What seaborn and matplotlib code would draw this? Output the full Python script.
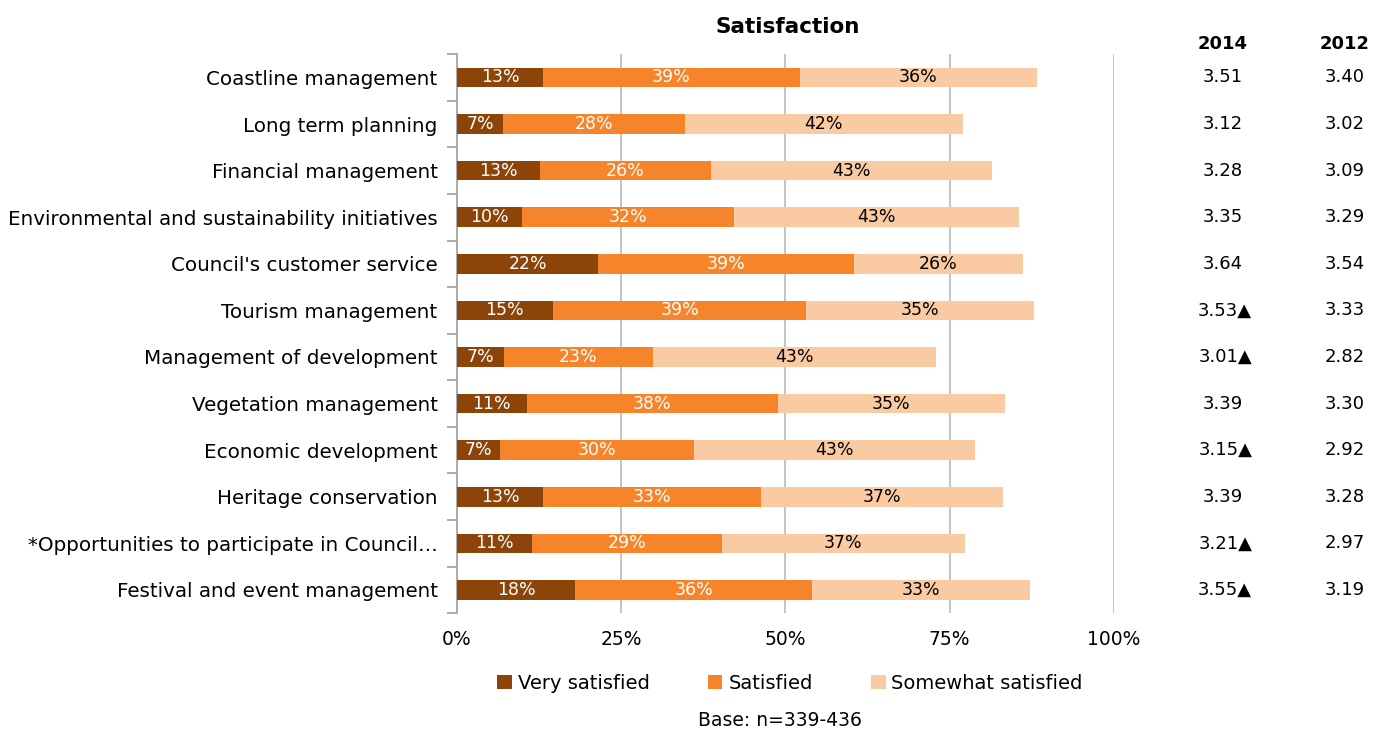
import numpy as np
import pandas as pd
import matplotlib
matplotlib.use("Agg")
import matplotlib.pyplot as plt
import matplotlib.transforms as mtransforms
from matplotlib.patches import Patch
import seaborn as sns

# Données
categories = [
    "Coastline management",
    "Long term planning",
    "Financial management",
    "Environmental and sustainability initiatives",
    "Council's customer service",
    "Tourism management",
    "Management of development",
    "Vegetation management",
    "Economic development",
    "Heritage conservation",
    "*Opportunities to participate in Council\u2026",
    "Festival and event management",
]
very_satisfied = [13.1, 7.0, 12.6, 9.9, 21.5, 14.6, 7.2, 10.6, 6.6, 13.1, 11.4, 18.0]
satisfied = [39.1, 27.7, 26.0, 32.3, 39.0, 38.6, 22.6, 38.2, 29.5, 33.2, 28.9, 36.1]
somewhat_satisfied = [36.1, 42.3, 42.8, 43.4, 25.6, 34.6, 43.1, 34.6, 42.7, 36.8, 37.0, 33.2]
score_2014 = ["3.51", "3.12", "3.28", "3.35", "3.64", "3.53\u25b2", "3.01\u25b2",
              "3.39", "3.15\u25b2", "3.39", "3.21\u25b2", "3.55\u25b2"]
score_2012 = ["3.40", "3.02", "3.09", "3.29", "3.54", "3.33", "2.82",
              "3.30", "2.92", "3.28", "2.97", "3.19"]
series_names = ["Very satisfied", "Satisfied", "Somewhat satisfied"]
x_ticks = [0, 25, 50, 75, 100]

colors = ["#8c4409", "#f5842a", "#facba2"]
label_colors = ["white", "white", "black"]

sns.set_style("white", {"text.color": "black", "axes.labelcolor": "black",
                        "xtick.color": "black", "ytick.color": "black"})
plt.rcParams["font.family"] = ["DejaVu Sans"]

df = pd.DataFrame({
    "category": categories,
    "very": very_satisfied,
    "sat": satisfied,
    "some": somewhat_satisfied,
})
df["cum1"] = df["very"]
df["cum2"] = df["very"] + df["sat"]
df["cum3"] = df["cum2"] + df["some"]

fig = plt.figure(figsize=(13.86, 7.37), dpi=100)
ax = fig.add_axes([0.3297, 0.168, 0.4740, 0.7585])

# Barres empilées : on trace les cumuls du plus long au plus court
for col, color in zip(["cum3", "cum2", "cum1"], colors[::-1]):
    sns.barplot(data=df, x=col, y="category", orient="h", color=color,
                width=0.42, saturation=1, linewidth=0, ax=ax, zorder=3)

# Étiquettes de pourcentage
lefts = [np.zeros(len(df)), df["cum1"].values, df["cum2"].values]
widths = [df["very"].values, df["sat"].values, df["some"].values]
for left, width, tc in zip(lefts, widths, label_colors):
    for i, (l, w) in enumerate(zip(left, width)):
        ax.text(l + w / 2, i, f"{w:.0f}%", ha="center", va="center",
                color=tc, fontsize=12.5, zorder=5)

ax.set_xlim(0, 100)
ax.set_ylim(len(df) - 0.5, -0.5)
ax.set_xticks(x_ticks)
ax.set_xticklabels([f"{t}%" for t in x_ticks], fontsize=13.5)
ax.set_xlabel("")
ax.set_ylabel("")
ax.tick_params(axis="y", which="major", length=0, labelsize=14.3, pad=14)
ax.tick_params(axis="x", length=0, pad=12)
ax.set_yticks(np.arange(-0.5, len(df), 1), minor=True)
ax.tick_params(axis="y", which="minor", left=True, length=7, color="#a6a6a6", width=1.3)
ax.xaxis.grid(True, color="#bfbfbf", linewidth=1.3, zorder=0)
ax.set_axisbelow(True)
for s in ["top", "right", "bottom"]:
    ax.spines[s].set_visible(False)
ax.spines["left"].set_color("#a6a6a6")
ax.spines["left"].set_linewidth(1.3)

fig.text(0.568, 0.964, "Satisfaction", ha="center", va="center",
         fontsize=15.5, fontweight="bold")

# Colonnes des scores moyens
trans = mtransforms.blended_transform_factory(fig.transFigure, ax.transData)
fig.text(0.882, 0.940, "2014", ha="center", va="center", fontsize=13, fontweight="bold")
fig.text(0.970, 0.940, "2012", ha="center", va="center", fontsize=13, fontweight="bold")
for i, (a, b) in enumerate(zip(score_2014, score_2012)):
    ax.text(0.884 if "\u25b2" in a else 0.882, i, a, transform=trans,
            ha="center", va="center", fontsize=13)
    ax.text(0.970, i, b, transform=trans, ha="center", va="center", fontsize=13)

handles = [Patch(facecolor=c, edgecolor="none") for c in colors]
fig.legend(handles, series_names, loc="center", bbox_to_anchor=(0.570, 0.073),
           ncol=3, frameon=False, fontsize=14, handlelength=0.75, handleheight=0.75,
           handletextpad=0.3, columnspacing=3.0)

fig.text(0.563, 0.010, "Base: n=339-436", ha="center", va="bottom", fontsize=13.5)

fig.savefig("out.png", dpi=100)
